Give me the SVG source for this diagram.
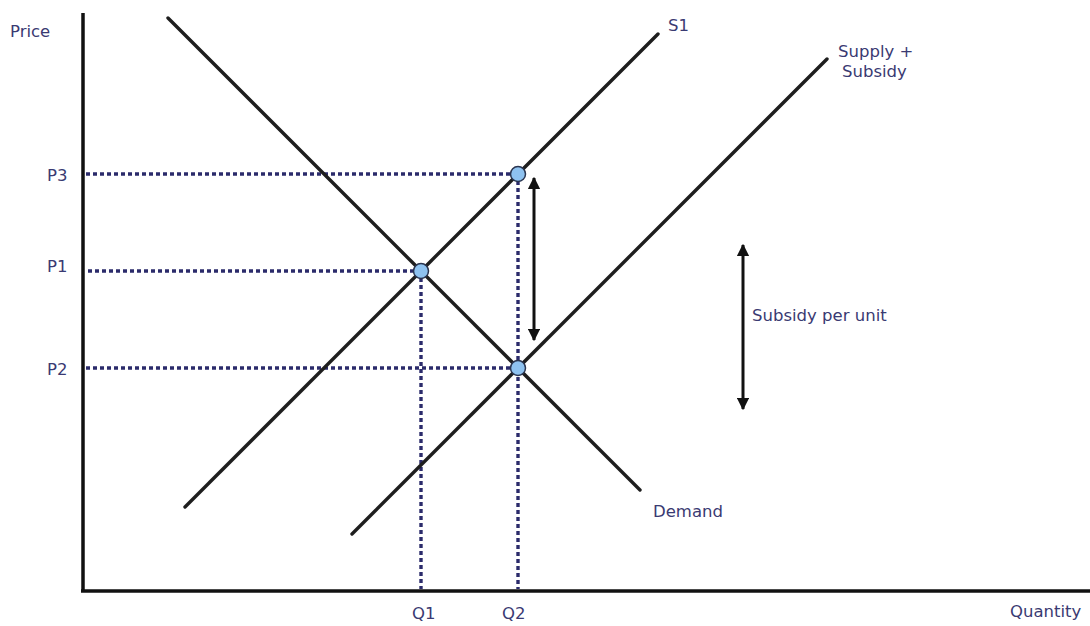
<svg xmlns="http://www.w3.org/2000/svg" width="1090" height="626" viewBox="0 0 1090 626">
<defs>
<style>
.lbl{font-family:"DejaVu Sans","Liberation Sans",sans-serif;font-size:16.5px;fill:#3a3a72}
.axis{stroke:#111;stroke-width:3.5;fill:none}
.curve{stroke:#1e1e1e;stroke-width:3.4;fill:none;stroke-linecap:round}
.dot{stroke:#2b2b6b;stroke-width:3.4;stroke-dasharray:4 3;fill:none}
.arrow{stroke:#111;stroke-width:3;fill:none;marker-start:url(#ah);marker-end:url(#ah)}
.pt{fill:#8ec2f0;stroke:#2a3550;stroke-width:1.5}
</style>
<marker id="ah" viewBox="0 0 10 10" refX="9" refY="5" markerWidth="4.2" markerHeight="4.2" orient="auto-start-reverse" markerUnits="strokeWidth">
<path d="M0,0 L10,5 L0,10 Z" fill="#111"/>
</marker>
</defs>
<rect width="1090" height="626" fill="#fff"/>
<g id="axes">
<line class="axis" x1="83" y1="13" x2="83" y2="592"/>
<line class="axis" x1="81" y1="591" x2="1090" y2="591"/>
</g>
<g id="connectors">
<line class="dot" x1="86" y1="174" x2="518" y2="174"/>
<line class="dot" x1="88" y1="271" x2="421" y2="271"/>
<line class="dot" x1="86" y1="368" x2="518" y2="368"/>
<line class="dot" x1="421" y1="271" x2="421" y2="589"/>
<line class="dot" x1="518" y1="174" x2="518" y2="589"/>
<line class="arrow" x1="534" y1="178" x2="534" y2="340"/>
<line class="arrow" x1="743" y1="245" x2="743" y2="409"/>
</g>
<g id="demand">
<line class="curve" x1="168" y1="18" x2="640" y2="490"/>
<text class="lbl" x="653" y="517">Demand</text>
</g>
<g id="s1">
<line class="curve" x1="185" y1="507" x2="658" y2="34"/>
<text class="lbl" x="668" y="31">S1</text>
</g>
<g id="supply-subsidy">
<line class="curve" x1="352" y1="534" x2="827" y2="59"/>
<text class="lbl" x="838" y="57">Supply +</text>
<text class="lbl" x="842" y="77">Subsidy</text>
</g>
<g id="points">
<circle class="pt" cx="421" cy="271" r="7.5"/>
<circle class="pt" cx="518" cy="174" r="7.5"/>
<circle class="pt" cx="518" cy="368" r="7.5"/>
</g>
<g id="labels">
<text class="lbl" x="10" y="37">Price</text>
<text class="lbl" x="47" y="181">P3</text>
<text class="lbl" x="47" y="272">P1</text>
<text class="lbl" x="47" y="375">P2</text>
<text class="lbl" x="412" y="619">Q1</text>
<text class="lbl" x="502" y="619">Q2</text>
<text class="lbl" x="1010" y="617">Quantity</text>
<text class="lbl" x="752" y="321">Subsidy per unit</text>
</g>
</svg>
